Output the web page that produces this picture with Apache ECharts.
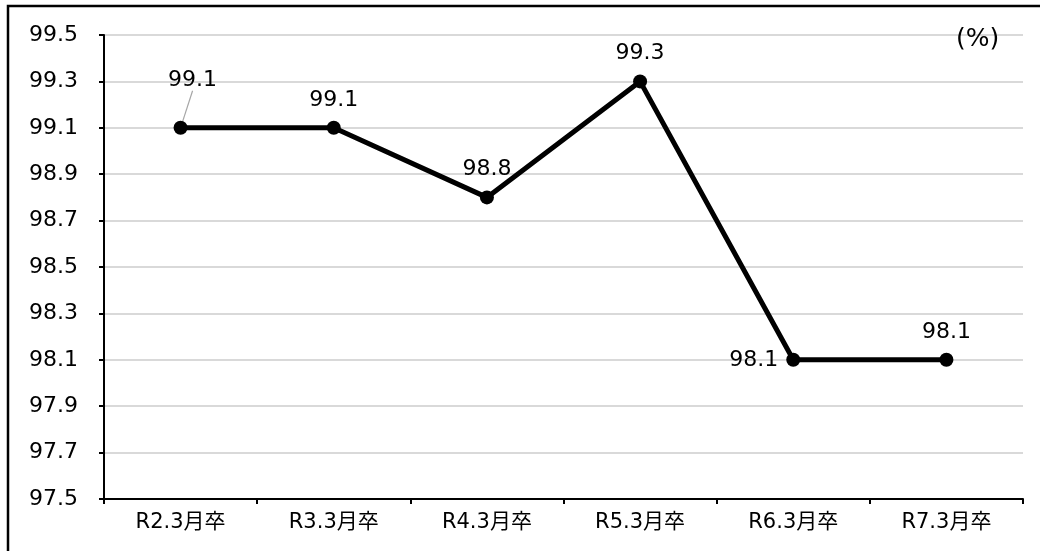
<!DOCTYPE html>
<html>
<head>
<meta charset="utf-8">
<script src="https://cdn.jsdelivr.net/npm/echarts@6/dist/echarts.min.js"></script>
<style>
html,body{margin:0;padding:0;background:#fff;}
#chart{width:1040px;height:551px;}
</style>
</head>
<body>
<div id="chart"></div>
<script>
const categories = ['R2.3月卒','R3.3月卒','R4.3月卒','R5.3月卒','R6.3月卒','R7.3月卒'];
const rates = [99.1, 99.1, 98.8, 99.3, 98.1, 98.1];
const yMin = 97.5, yMax = 99.5, yStep = 0.2;
const unitLabel = '(%)';

const FONT = '"DejaVu Sans", "Noto Sans CJK JP", sans-serif';
const chart = echarts.init(document.getElementById('chart'));

const seriesData = rates.map((v, i) => {
  const item = { value: v };
  if (i === 0) {
    item.labelLine = { show: true, lineStyle: { color: '#a6a6a6', width: 1.2 } };
  }
  if (i === 4) {
    item.label = { position: 'left', distance: 8, offset: [0, -5] };
  }
  return item;
});

chart.setOption({
  animation: false,
  backgroundColor: '#fff',
  title: {
    text: unitLabel, left: 956, top: 27, padding: 0,
    textStyle: { color: '#000', fontSize: 25, fontWeight: 'normal', fontFamily: FONT }
  },
  grid: { left: 104, right: 17, top: 35, bottom: 52, containLabel: false },
  graphic: [
    { type: 'rect', shape: { x: 8, y: 6, width: 1100, height: 600 },
      style: { fill: 'none', stroke: '#000', lineWidth: 2.5 }, silent: true }
  ],
  xAxis: {
    type: 'category',
    data: categories,
    boundaryGap: true,
    axisLine: { lineStyle: { color: '#000', width: 2 } },
    axisTick: { show: true, length: 5, lineStyle: { color: '#000', width: 2 } },
    axisLabel: { color: '#000', fontSize: 21, fontFamily: FONT, margin: 13 },
    splitLine: { show: false }
  },
  yAxis: {
    type: 'value',
    min: yMin, max: yMax, interval: yStep,
    axisLine: { show: true, lineStyle: { color: '#000', width: 2 } },
    axisTick: { show: true, length: 5, lineStyle: { color: '#000', width: 2 } },
    axisLabel: { color: '#000', fontSize: 22, fontFamily: FONT, margin: 26,
      formatter: v => v.toFixed(1) },
    splitLine: { show: true, lineStyle: { color: '#d9d9d9', width: 2 } }
  },
  series: [{
    type: 'line',
    data: seriesData,
    symbol: 'circle',
    symbolSize: 14,
    lineStyle: { color: '#000', width: 5 },
    itemStyle: { color: '#000' },
    label: {
      show: true, position: 'top', distance: 10,
      color: '#000', fontSize: 22, fontFamily: FONT,
      formatter: p => p.value.toFixed(1)
    },
    labelLayout: function (params) {
      if (params.dataIndex === 0) {
        return { dx: 12, dy: -20 };
      }
      return {};
    }
  }]
});
</script>
</body>
</html>
